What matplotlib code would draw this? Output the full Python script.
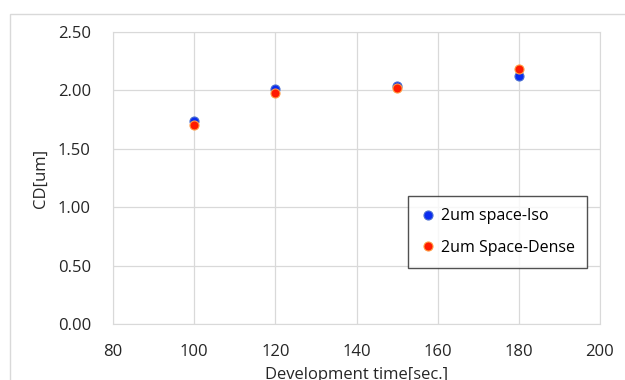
import matplotlib.pyplot as plt
from matplotlib.patches import Rectangle

dev_time = [100, 120, 150, 180]
cd_iso = [1.74, 2.01, 2.04, 2.12]
cd_dense = [1.70, 1.98, 2.02, 2.18]

x_ticks = [80, 100, 120, 140, 160, 180, 200]
y_ticks = [0.0, 0.5, 1.0, 1.5, 2.0, 2.5]

plt.rcParams["font.family"] = ["Open Sans", "DejaVu Sans"]

fig = plt.figure(figsize=(6.25, 3.8), dpi=100)
fig.patches.append(Rectangle((0.016, -0.05), 1.2, 1.013, transform=fig.transFigure,
                             fill=False, edgecolor="#d9d9d9", linewidth=1))
ax = fig.add_axes([0.181, 0.147, 0.779, 0.769])

ax.plot(dev_time, cd_iso, "o", color="#0a2cf0", markeredgecolor="#4a6fd0",
        markersize=6.5, markeredgewidth=0.8, label="2um space-Iso", zorder=3)
ax.plot(dev_time, cd_dense, "o", color="#ff1a00", markeredgecolor="#ff9a40",
        markersize=6.5, markeredgewidth=0.8, label="2um Space-Dense", zorder=3)

ax.set_xlim(80, 200)
ax.set_ylim(0, 2.5)
ax.set_xticks(x_ticks)
ax.set_yticks(y_ticks)
ax.set_yticklabels([f"{v:.2f}" for v in y_ticks])
ax.grid(True, color="#d9d9d9", linewidth=0.9)
ax.set_axisbelow(True)
for s in ax.spines.values():
    s.set_color("#d9d9d9")
ax.tick_params(length=0, labelsize=12, colors="#262626")
ax.tick_params(axis="y", pad=16)
ax.tick_params(axis="x", pad=14)

ax.set_xlabel("Development time[sec.]", fontsize=12, color="#262626", labelpad=5)
ax.set_ylabel("CD[um]", fontsize=12, color="#262626", labelpad=6)

leg = ax.legend(loc="upper left", bbox_to_anchor=(0.606, 0.437), fontsize=11.5,
                frameon=True, fancybox=False, handletextpad=0.3, labelspacing=0.95,
                borderpad=0.75, handlelength=1.0, borderaxespad=0)
leg.get_frame().set_edgecolor("#262626")
leg.get_frame().set_linewidth(1)

fig.savefig("out.png", dpi=100, facecolor="white")
